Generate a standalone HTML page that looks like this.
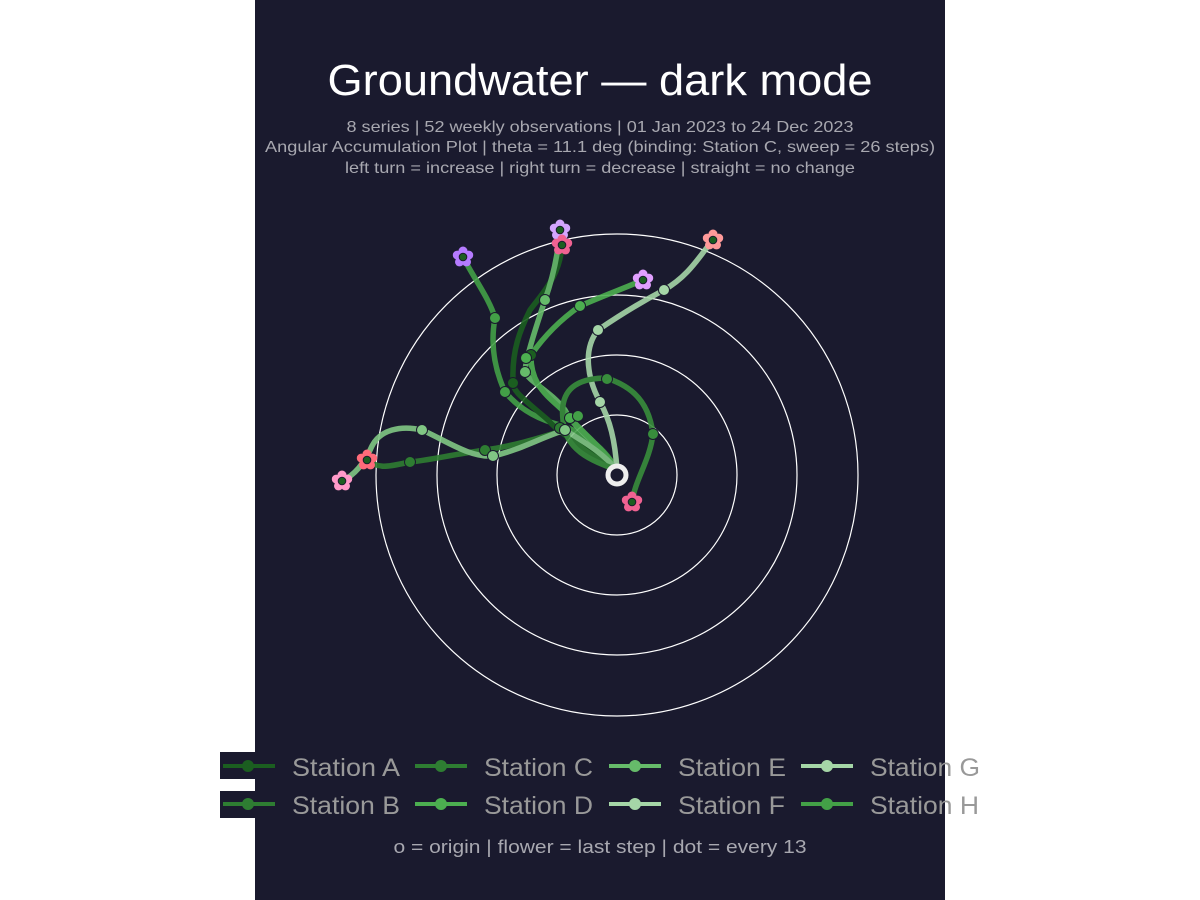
<!DOCTYPE html>
<html><head><meta charset="utf-8"><style>
html,body{margin:0;padding:0;background:#fff;}
svg{display:block;font-family:"Liberation Sans",sans-serif;}
</style></head><body>
<svg width="1200" height="900" viewBox="0 0 1200 900" xmlns="http://www.w3.org/2000/svg">
<defs>
<g id="fl"><circle cx="0" cy="-6" r="4.5"/><circle cx="5.7" cy="-1.9" r="4.5"/><circle cx="3.5" cy="4.9" r="4.5"/><circle cx="-3.5" cy="4.9" r="4.5"/><circle cx="-5.7" cy="-1.9" r="4.5"/></g>
</defs>
<rect x="255" y="0" width="690" height="900" fill="#1a1a2e"/>
<text x="600" y="95" fill="#fff" font-size="44" text-anchor="middle" textLength="545" lengthAdjust="spacingAndGlyphs">Groundwater — dark mode</text>
<g fill="#a8a8b0" font-size="16" text-anchor="middle">
<text x="600" y="132" textLength="507" lengthAdjust="spacingAndGlyphs">8 series | 52 weekly observations | 01 Jan 2023 to 24 Dec 2023</text>
<text x="600" y="152" textLength="670" lengthAdjust="spacingAndGlyphs">Angular Accumulation Plot | theta = 11.1 deg (binding: Station C, sweep = 26 steps)</text>
<text x="600" y="173" textLength="510" lengthAdjust="spacingAndGlyphs">left turn = increase | right turn = decrease | straight = no change</text>
</g>
<g fill="none" stroke="#fff" stroke-width="1.2">
<circle cx="617" cy="475" r="60"/><circle cx="617" cy="475" r="120"/><circle cx="617" cy="475" r="180"/><circle cx="617" cy="475" r="241"/>
</g>
<g fill="none" stroke-width="5.5" stroke-linecap="round" stroke-linejoin="round" opacity="0.9">
<path stroke="#43a047" d="M617,470 C600,440 575,430 560,425 C540,420 520,410 505,392 C495,370 490,345 495,318 C490,300 475,280 463,257"/>
<path stroke="#1b5e20" d="M617,470 C595,450 565,440 548,420 C525,400 510,390 513,380 C512,350 520,330 530,310 C545,290 560,275 562,245"/>
<path stroke="#66bb6a" d="M617,470 C600,445 575,430 565,410 C550,390 525,380 525,370 C527,355 535,330 545,300 C552,280 558,255 560,230"/>
<path stroke="#4caf50" d="M617,470 C600,445 585,435 570,418 C555,400 530,390 531,355 C545,335 560,320 580,306 C605,295 625,288 643,280"/>
<path stroke="#a5d6a7" d="M617,470 C615,440 610,420 600,402 C588,380 582,350 598,330 C620,315 645,300 664,290 C690,275 700,255 713,240"/>
<path stroke="#2e7d32" d="M617,470 C590,455 575,445 565,430 C548,435 520,445 485,450 C450,455 430,460 410,462 C390,466 380,470 367,460"/>
<path stroke="#81c784" d="M617,470 C600,450 580,440 565,430 C540,438 520,450 493,456 C470,458 445,440 422,430 C400,425 380,430 372,446 C365,462 355,475 342,481"/>
<path stroke="#388e3c" d="M617,470 C590,460 565,450 563,420 C560,395 570,378 607,378 C625,385 648,395 653,434 C650,460 635,480 632,502"/>
</g>
<g stroke="#1a1a2e" stroke-width="1">
<circle cx="495" cy="318" r="5.5" fill="#43a047"/><circle cx="505" cy="392" r="5.5" fill="#43a047"/>
<circle cx="531" cy="355" r="5.5" fill="#1b5e20"/><circle cx="513" cy="383" r="5.5" fill="#1b5e20"/>
<circle cx="545" cy="300" r="5.5" fill="#66bb6a"/><circle cx="525" cy="372" r="5.5" fill="#66bb6a"/>
<circle cx="580" cy="306" r="5.5" fill="#4caf50"/><circle cx="526" cy="358" r="5.5" fill="#4caf50"/>
<circle cx="664" cy="290" r="5.5" fill="#a5d6a7"/><circle cx="598" cy="330" r="5.5" fill="#a5d6a7"/><circle cx="600" cy="402" r="5.5" fill="#a5d6a7"/>
<circle cx="410" cy="462" r="5.5" fill="#2e7d32"/><circle cx="485" cy="450" r="5.5" fill="#2e7d32"/>
<circle cx="422" cy="430" r="5.5" fill="#81c784"/><circle cx="493" cy="456" r="5.5" fill="#81c784"/>
<circle cx="607" cy="379" r="5.5" fill="#388e3c"/><circle cx="653" cy="434" r="5.5" fill="#388e3c"/>
<circle cx="570" cy="418" r="5.5" fill="#4caf50"/><circle cx="578" cy="416" r="5.5" fill="#43a047"/><circle cx="560" cy="428" r="5.5" fill="#2e7d32"/><circle cx="565" cy="430" r="5.5" fill="#81c784"/>
</g>
<g>
<use href="#fl" x="463" y="257" fill="#b57bff"/><circle cx="463" cy="257" r="3.8" fill="#1b5e20" stroke="#1a1a2e"/>
<use href="#fl" x="560" y="230" fill="#d4a5ff"/><circle cx="560" cy="230" r="3.8" fill="#1b5e20" stroke="#1a1a2e"/>
<use href="#fl" x="562" y="245" fill="#f06292"/><circle cx="562" cy="245" r="3.8" fill="#1b5e20" stroke="#1a1a2e"/>
<use href="#fl" x="643" y="280" fill="#e1a0ff"/><circle cx="643" cy="280" r="3.8" fill="#1b5e20" stroke="#1a1a2e"/>
<use href="#fl" x="713" y="240" fill="#ff9a9a"/><circle cx="713" cy="240" r="3.8" fill="#1b5e20" stroke="#1a1a2e"/>
<use href="#fl" x="367" y="460" fill="#ff6b7a"/><circle cx="367" cy="460" r="3.8" fill="#1b5e20" stroke="#1a1a2e"/>
<use href="#fl" x="342" y="481" fill="#ff9ac8"/><circle cx="342" cy="481" r="3.8" fill="#1b5e20" stroke="#1a1a2e"/>
<use href="#fl" x="632" y="502" fill="#f06292"/><circle cx="632" cy="502" r="3.8" fill="#1b5e20" stroke="#1a1a2e"/>
</g>
<circle cx="617" cy="475" r="9" fill="#1a1a2e" stroke="#eee" stroke-width="5"/>
<rect x="220" y="752" width="60" height="27" fill="#1a1a2e"/>
<rect x="220" y="791" width="60" height="27" fill="#1a1a2e"/>
<g stroke-width="4" stroke-linecap="butt">
<g stroke="#1b5e20" fill="#1b5e20"><line x1="223" y1="766" x2="275" y2="766"/><circle cx="248" cy="766" r="4"/></g>
<g stroke="#2e7d32" fill="#2e7d32"><line x1="223" y1="804" x2="275" y2="804"/><circle cx="248" cy="804" r="4"/></g>
<g stroke="#2e7d32" fill="#2e7d32"><line x1="415" y1="766" x2="467" y2="766"/><circle cx="441" cy="766" r="4"/></g>
<g stroke="#4caf50" fill="#4caf50"><line x1="415" y1="804" x2="467" y2="804"/><circle cx="441" cy="804" r="4"/></g>
<g stroke="#66bb6a" fill="#66bb6a"><line x1="609" y1="766" x2="661" y2="766"/><circle cx="635" cy="766" r="4"/></g>
<g stroke="#a5d6a7" fill="#a5d6a7"><line x1="609" y1="804" x2="661" y2="804"/><circle cx="635" cy="804" r="4"/></g>
<g stroke="#a5d6a7" fill="#a5d6a7"><line x1="801" y1="766" x2="853" y2="766"/><circle cx="827" cy="766" r="4"/></g>
<g stroke="#43a047" fill="#43a047"><line x1="801" y1="804" x2="853" y2="804"/><circle cx="827" cy="804" r="4"/></g>
</g>
<g fill="#999" font-size="25">
<text x="292" y="776" textLength="108" lengthAdjust="spacingAndGlyphs">Station A</text>
<text x="292" y="814" textLength="108" lengthAdjust="spacingAndGlyphs">Station B</text>
<text x="484" y="776" textLength="109" lengthAdjust="spacingAndGlyphs">Station C</text>
<text x="484" y="814" textLength="109" lengthAdjust="spacingAndGlyphs">Station D</text>
<text x="678" y="776" textLength="108" lengthAdjust="spacingAndGlyphs">Station E</text>
<text x="678" y="814" textLength="107" lengthAdjust="spacingAndGlyphs">Station F</text>
<text x="870" y="776" textLength="110" lengthAdjust="spacingAndGlyphs">Station G</text>
<text x="870" y="814" textLength="109" lengthAdjust="spacingAndGlyphs">Station H</text>
</g>
<text x="600" y="853" fill="#a8a8b0" font-size="18" text-anchor="middle" textLength="413" lengthAdjust="spacingAndGlyphs">o = origin | flower = last step | dot = every 13</text>
</svg>
</body></html>
